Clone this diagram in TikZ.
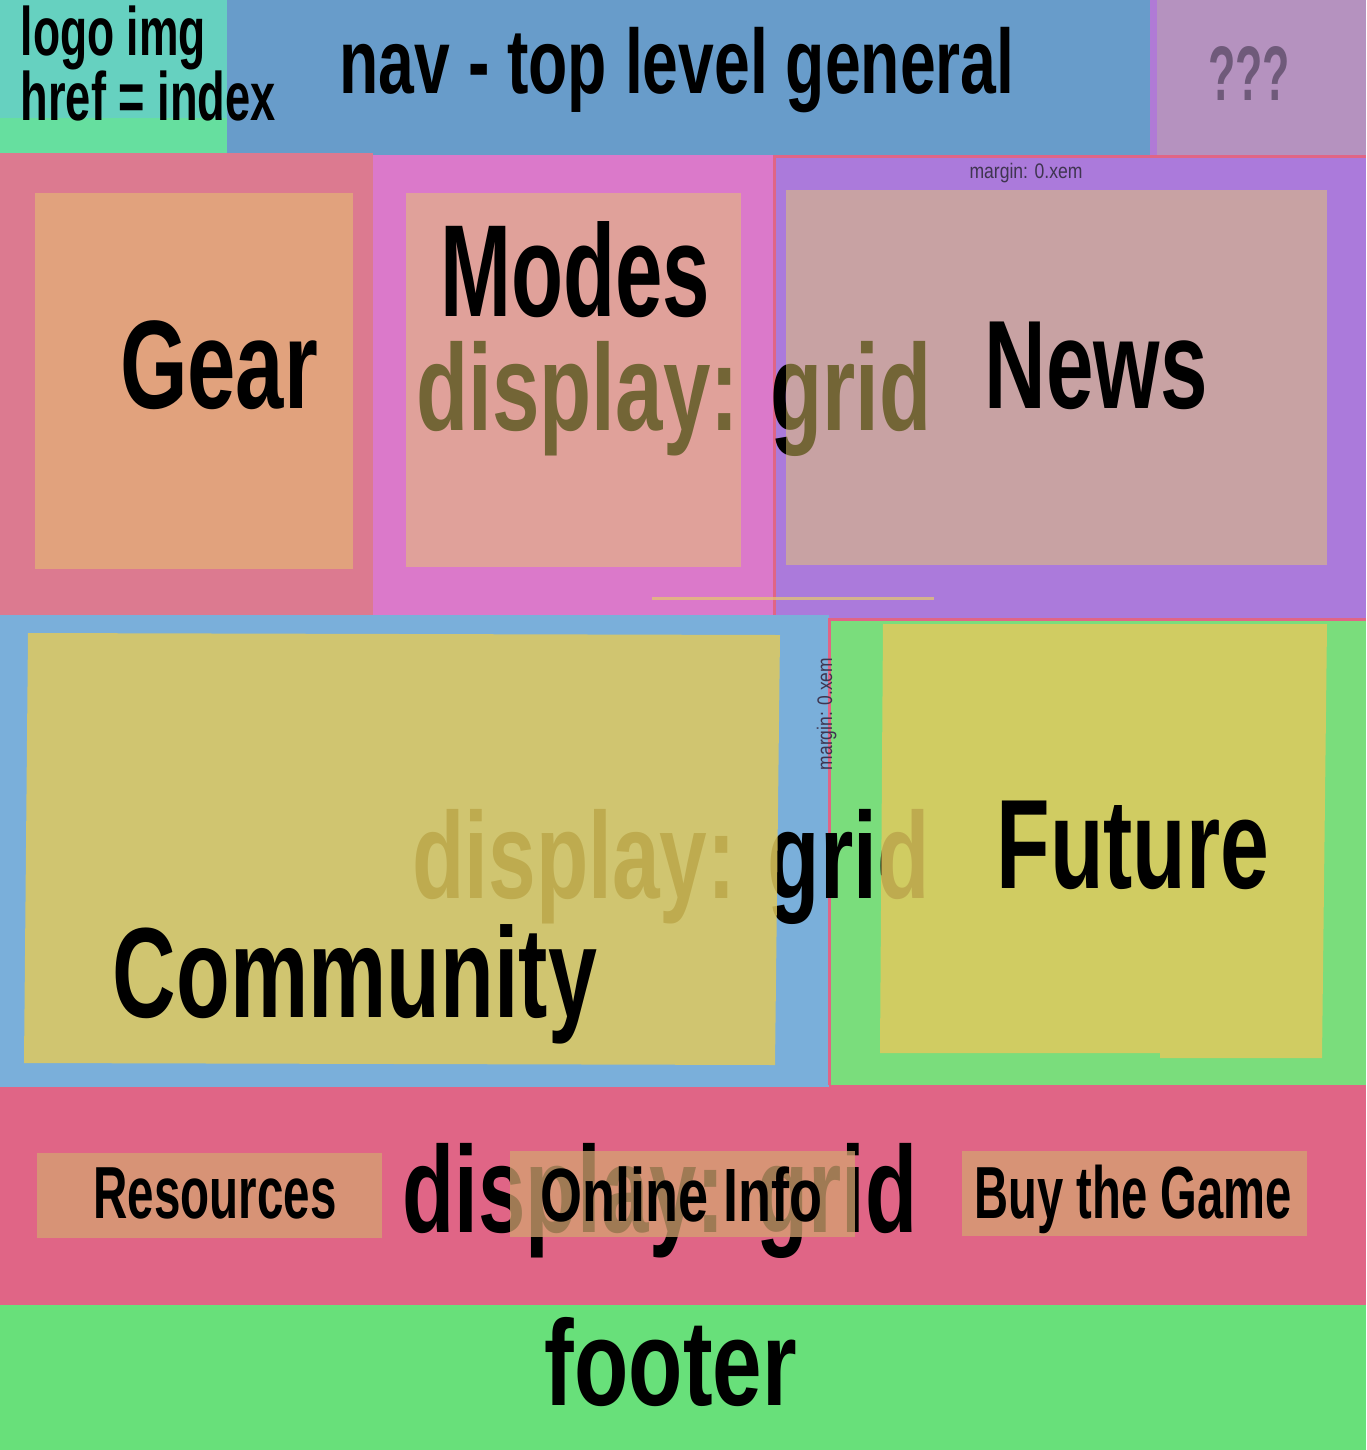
\documentclass[tikz,border=0pt]{standalone}
\usepackage{fontspec}
\setmainfont{Liberation Sans}
\usepackage{graphicx}
\usetikzlibrary{positioning}
\definecolor{cteal}{HTML}{66D1C0}
\definecolor{cmint}{HTML}{66DF9F}
\definecolor{cnav}{HTML}{689CCA}
\definecolor{cmauve}{HTML}{B592BF}
\definecolor{cviolet}{HTML}{B07AD6}
\definecolor{crose}{HTML}{DC7A90}
\definecolor{cpink}{HTML}{DB79CA}
\definecolor{cpurple}{HTML}{AB7ADB}
\definecolor{cred}{HTML}{E06586}
\definecolor{csky}{HTML}{7AAFDA}
\definecolor{cgreen}{HTML}{7ADD7C}
\definecolor{cfoot}{HTML}{68E07A}
\definecolor{cgold}{HTML}{E6CA6C}
\definecolor{cmustard}{HTML}{E0CA5E}
\definecolor{ctan}{HTML}{D5A371}
\definecolor{cgrey}{HTML}{6F5A7A}
\definecolor{cink}{HTML}{3F3550}
\newlength\pxu \setlength\pxu{0.1mm}
\newcommand{\fitw}[2]{\resizebox{#1\pxu}{\height}{#2}}
\tikzset{
  every picture/.style={x=0.1mm, y=-0.1mm},
  lbl/.style={anchor=base, inner sep=0pt, font=\bfseries\fontsize{#1}{#1}\selectfont},
  lbl/.default=36,
  small/.style={lbl=6, text=cink, font=\fontsize{6}{6}\selectfont},
  veil/.style={fill=#1, fill opacity=0.5},
}

\begin{document}
\begin{tikzpicture}
  \useasboundingbox (0,0) rectangle (1366,1450);
  % header
  \fill[cred] (0,0) rectangle (1366,158);
  \fill[cmint] (0,0) rectangle (227,153);
  \fill[cteal] (0,0) rectangle (227,118);
  \fill[cnav] (227,0) rectangle (1152,155);
  \fill[cviolet] (1150,0) rectangle (1157,155);
  \fill[cmauve] (1157,0) rectangle (1366,155);
  \node[lbl=19.5, anchor=base west] (logo1) at (20,55) {\fitw{185}{logo img}};
  \node[lbl=19.5, anchor=base west] (logo2) at (20,120) {\fitw{255}{href = index}};
  \node[lbl=26] (nav) at (677,93) {\fitw{675}{nav - top level general}};
  \node[lbl=22, text=cgrey] (qqq) at (1249,100) {\fitw{82}{???}};
  % gear / modes / news
  \fill[crose] (0,153) rectangle (373,616);
  \fill[cpink] (373,155) rectangle (775,616);
  \fill[cred] (773,155) rectangle (1366,619);
  \fill[cpurple] (776,158) rectangle (1366,618);
  \node[lbl=35] (grid2) at (674,430) {\fitw{515}{display: grid}};
  \foreach \xa/\ya/\xb/\yb in {35/193/353/569, 406/193/741/567, 786/190/1327/565}
    \fill[veil=cgold] (\xa,\ya) rectangle (\xb,\yb);
  \draw[cgold, draw opacity=0.7, line width=0.3mm] (652,598) -- (934,598);
  \node[lbl=35.8] (gear) at (219,408) {\fitw{198}{Gear}};
  \node[lbl=37.3] (modes) at (575,316) {\fitw{270}{Modes}};
  \node[lbl=35.8] (news) at (1096,408) {\fitw{223}{News}};
  \node[small] (mtop) at (1026,178) {\fitw{113}{margin: 0.xem}};
  % community / future
  \fill[cred] (0,1080) rectangle (1366,1305);
  \fill[csky] (0,615) rectangle (829,1087);
  \fill[cred] (828,618) rectangle (1366,1085);
  \fill[cgreen] (831,621) rectangle (1366,1085);
  \node[lbl=35] (grid3) at (671,898) {\fitw{517}{display: grid}};
  \fill[veil=cmustard, fill opacity=0.85] (28,633) -- (780,635) -- (775,1065) -- (24,1063) -- cycle;
  \fill[veil=cmustard, fill opacity=0.85] (883,624) -- (1327,624) -- (1322,1058) -- (1160,1058)
    -- (1160,1053) -- (880,1053) -- cycle;
  \node[lbl=36.5] (community) at (355,1017) {\fitw{484}{Community}};
  \node[lbl=36.2] (future) at (1133,888) {\fitw{273}{Future}};
  \node[small, rotate=90] (mside) at (832,714) {\fitw{112}{margin: 0.xem}};
  % links row
  \node[lbl=35] (grid4) at (660,1232) {\fitw{515}{display: grid}};
  \foreach \xa/\ya/\xb/\yb in {37/1153/382/1238, 510/1151/855/1237, 962/1151/1307/1236}
    \fill[veil=ctan, fill opacity=0.75] (\xa,\ya) rectangle (\xb,\yb);
  \node[lbl=21] (res) at (215,1218) {\fitw{243}{Resources}};
  \node[lbl=21.5] (online) at (681,1221) {\fitw{282}{Online Info}};
  \node[lbl=21] (buy) at (1133,1218) {\fitw{317}{Buy the Game}};
  % footer
  \fill[cfoot] (0,1305) rectangle (1366,1450);
  \node[lbl=34.6] (footer) at (671,1405) {\fitw{252}{footer}};
\end{tikzpicture}
\end{document}
